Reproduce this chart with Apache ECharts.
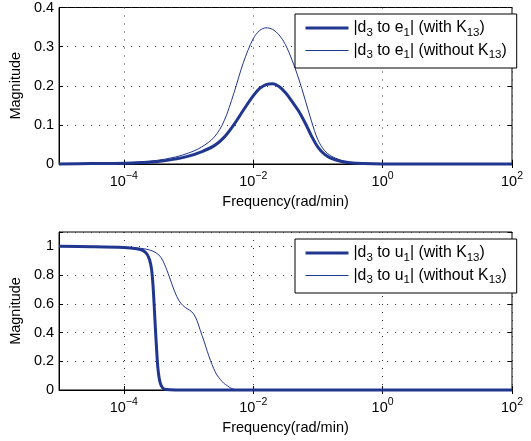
<!DOCTYPE html>
<html>
<head>
<meta charset="utf-8">
<script src="https://cdn.jsdelivr.net/npm/echarts@6/dist/echarts.min.js"></script>
<style>
html,body{margin:0;padding:0;background:#fff;}
#chart{width:531px;height:441px;}
</style>
</head>
<body>
<div id="chart"></div>
<script>
// ---------- data ----------
const xTickValues = [1e-4, 1e-2, 1, 100];

// top panel: |d3 to e1|
const freqTop = [1e-5, 3.16e-5, 1e-4, 3.16e-4, 6.31e-4, 1e-3, 1.58e-3, 2.51e-3, 3.55e-3, 5.01e-3, 7.08e-3, 1e-2, 1.26e-2, 1.58e-2, 2.0e-2, 2.51e-2, 3.16e-2, 3.98e-2, 5.01e-2, 6.31e-2, 7.94e-2, 0.1, 0.126, 0.158, 0.224, 0.316, 0.501, 1, 100];
const e1WithK13 = [0.000, 0.001, 0.002, 0.006, 0.013, 0.020, 0.031, 0.047, 0.068, 0.100, 0.138, 0.174, 0.193, 0.203, 0.205, 0.198, 0.182, 0.160, 0.136, 0.106, 0.072, 0.043, 0.025, 0.015, 0.007, 0.003, 0.001, 0.000, 0.000];
const e1WithoutK13 = [0.000, 0.001, 0.003, 0.009, 0.018, 0.028, 0.043, 0.069, 0.110, 0.180, 0.260, 0.320, 0.341, 0.348, 0.344, 0.330, 0.305, 0.266, 0.220, 0.166, 0.110, 0.062, 0.035, 0.021, 0.010, 0.004, 0.001, 0.000, 0.000];

// bottom panel: |d3 to u1|
const freqU1With = [1e-5, 3.16e-5, 1e-4, 1.58e-4, 2.0e-4, 2.29e-4, 2.51e-4, 2.69e-4, 2.82e-4, 2.95e-4, 3.09e-4, 3.24e-4, 3.39e-4, 3.63e-4, 3.98e-4, 4.47e-4, 6.31e-4, 100];
const u1WithK13 = [1.000, 0.998, 0.992, 0.983, 0.970, 0.945, 0.905, 0.840, 0.740, 0.590, 0.420, 0.260, 0.140, 0.055, 0.015, 0.003, 0.000, 0.000];
const freqU1Without = [1e-5, 3.16e-5, 1e-4, 1.78e-4, 2.51e-4, 3.16e-4, 3.80e-4, 4.68e-4, 5.62e-4, 6.61e-4, 7.59e-4, 8.91e-4, 1.05e-3, 1.20e-3, 1.35e-3, 1.51e-3, 1.74e-3, 1.95e-3, 2.19e-3, 2.45e-3, 2.75e-3, 3.09e-3, 3.55e-3, 3.98e-3, 4.57e-3, 5.25e-3, 6.31e-3, 100];
const u1WithoutK13 = [1.000, 0.998, 0.994, 0.987, 0.975, 0.955, 0.920, 0.830, 0.730, 0.650, 0.605, 0.575, 0.555, 0.530, 0.485, 0.420, 0.340, 0.270, 0.205, 0.150, 0.105, 0.075, 0.045, 0.030, 0.012, 0.003, 0.000, 0.000];

const namesTop = ['|d3 to e1| (with K13)', '|d3 to e1| (without K13)'];
const namesBottom = ['|d3 to u1| (with K13)', '|d3 to u1| (without K13)'];
const richNames = {
  '|d3 to e1| (with K13)': '|d{s|3} to e{s|1}| (with K{s|13})',
  '|d3 to e1| (without K13)': '|d{s|3} to e{s|1}| (without K{s|13})',
  '|d3 to u1| (with K13)': '|d{s|3} to u{s|1}| (with K{s|13})',
  '|d3 to u1| (without K13)': '|d{s|3} to u{s|1}| (without K{s|13})'
};

// ---------- styles ----------
const FONT = 'Liberation Sans, Arial, Helvetica, sans-serif';
const LINE = '#20368f';
const THICK = 3, THIN = 1;
const pairs = (xs, ys) => xs.map((x, i) => [x, ys[i]]);

function xAxisMain(grid) {
  return {
    type: 'log', logBase: 10, gridIndex: grid, min: 1e-5, max: 100, position: 'bottom',
    name: 'Frequency(rad/min)', nameLocation: 'middle', nameGap: 30,
    nameTextStyle: {fontFamily: FONT, fontSize: 14.5, color: '#000'},
    axisLine: {show: true, lineStyle: {color: '#000', width: 1}},
    axisTick: {show: true, inside: true, length: 4, customValues: xTickValues, lineStyle: {color: '#000'}},
    axisLabel: {
      customValues: xTickValues, margin: 7, color: '#000',
      formatter: v => {
        const e = Math.round(Math.log10(v));
        return '{b|10}{p|' + (e < 0 ? '\u2212' + (-e) : e) + '}';
      },
      rich: {
        b: {fontFamily: FONT, fontSize: 14.5, color: '#000'},
        p: {fontFamily: FONT, fontSize: 10.5, color: '#000', padding: [0, 0, 10, 0]}
      }
    },
    splitLine: {show: true, lineStyle: {color: '#333', type: [1, 7], width: 1}}
  };
}
function xAxisMirror(grid) {
  return {
    type: 'log', logBase: 10, gridIndex: grid, min: 1e-5, max: 100, position: 'top',
    axisLine: {show: false},
    axisTick: {show: true, inside: true, length: 4, customValues: xTickValues, lineStyle: {color: '#000'}},
    axisLabel: {show: false},
    splitLine: {show: false}
  };
}
function yAxisMain(grid, max, interval) {
  return {
    type: 'value', gridIndex: grid, min: 0, max: max, interval: interval, position: 'left',
    name: 'Magnitude', nameLocation: 'middle', nameGap: 24,
    nameTextStyle: {fontFamily: FONT, fontSize: 14.5, color: '#000'},
    axisLine: {show: true, lineStyle: {color: '#000', width: 1}},
    axisTick: {show: true, inside: true, length: 4, lineStyle: {color: '#000'}},
    axisLabel: {
      fontFamily: FONT, fontSize: 14.5, color: '#000', margin: 5,
      formatter: v => (v > max - interval / 2 + 1e-9 && max % interval > 1e-9) ? '' : String(+v.toFixed(2))
    },
    splitLine: {show: true, lineStyle: {color: '#333', type: [1, 7], width: 1}}
  };
}
function yAxisMirror(grid, max, interval) {
  return {
    type: 'value', gridIndex: grid, min: 0, max: max, interval: interval, position: 'right',
    axisLine: {show: false},
    axisTick: {show: true, inside: true, length: 4, lineStyle: {color: '#000'}},
    axisLabel: {show: false},
    splitLine: {show: false}
  };
}
function legendOf(names, top) {
  return {
    data: [
      {name: names[0], lineStyle: {width: THICK, color: LINE}, itemStyle: {opacity: 0}},
      {name: names[1], lineStyle: {width: THIN, color: LINE}, itemStyle: {opacity: 0}}
    ],
    orient: 'vertical', left: 295, top: top,
    padding: [6, 10, 7, 9], itemGap: 4, itemWidth: 43, itemHeight: 13, itemTextGap: 6,
    backgroundColor: '#fff', borderColor: '#000', borderWidth: 1, borderRadius: 0,
    selectedMode: false,
    formatter: n => richNames[n],
    textStyle: {
      fontFamily: FONT, fontSize: 15.8, color: '#000',
      rich: {s: {fontFamily: FONT, fontSize: 11.5, color: '#000', padding: [9, 0, 0, 0]}}
    }
  };
}
function lineSeries(name, xi, yi, data, width) {
  return {
    type: 'line', name: name, xAxisIndex: xi, yAxisIndex: yi, data: data,
    symbol: 'none', smooth: 0.35, clip: false,
    lineStyle: {color: LINE, width: width}, itemStyle: {color: LINE},
    emphasis: {disabled: true}, z: 3
  };
}

const option = {
  animation: false,
  backgroundColor: '#fff',
  textStyle: {fontFamily: FONT},
  grid: [
    {left: 59, right: 19, top: 6, height: 158, show: true, borderColor: '#000', borderWidth: 1, backgroundColor: '#fff'},
    {left: 59, right: 19, top: 232, height: 158, show: true, borderColor: '#000', borderWidth: 1, backgroundColor: '#fff'}
  ],
  xAxis: [xAxisMain(0), xAxisMirror(0), xAxisMain(1), xAxisMirror(1)],
  yAxis: [yAxisMain(0, 0.4, 0.1), yAxisMirror(0, 0.4, 0.1), yAxisMain(1, 1.1, 0.2), yAxisMirror(1, 1.1, 0.2)],
  legend: [legendOf(namesTop, 14), legendOf(namesBottom, 239)],
  series: [
    lineSeries(namesTop[0], 0, 0, pairs(freqTop, e1WithK13), THICK),
    lineSeries(namesTop[1], 0, 0, pairs(freqTop, e1WithoutK13), THIN),
    lineSeries(namesBottom[0], 2, 2, pairs(freqU1With, u1WithK13), THICK),
    lineSeries(namesBottom[1], 2, 2, pairs(freqU1Without, u1WithoutK13), THIN)
  ]
};

const chart = echarts.init(document.getElementById('chart'), null, {renderer: 'canvas'});
chart.setOption(option);
</script>
</body>
</html>
